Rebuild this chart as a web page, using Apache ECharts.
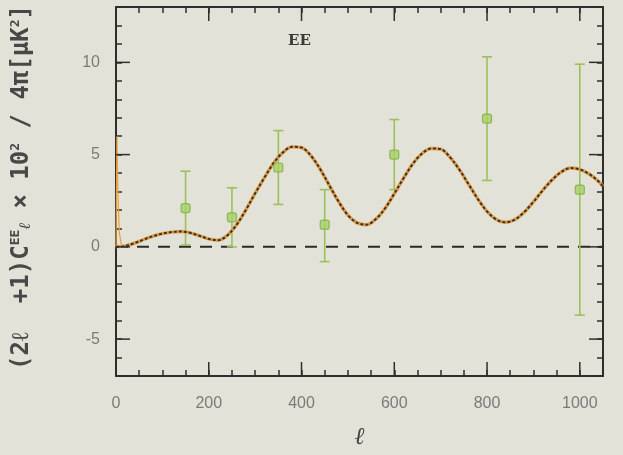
<!DOCTYPE html>
<html>
<head>
<meta charset="utf-8">
<script src="https://cdn.jsdelivr.net/npm/echarts/dist/echarts.min.js"></script>
<style>
html,body{margin:0;padding:0;background:#e3e2d8;}
#chart{width:623px;height:455px;}
</style>
</head>
<body>
<div id="chart"></div>
<script>
// Theory curve (multipole ℓ, value)
const curveEll = [0,20,40,60,80,100,120,140,160,180,200,220,240,260,280,300,320,340,360,380,400,420,440,460,480,500,520,540,560,580,600,620,640,660,680,700,720,740,760,780,800,820,840,860,880,900,920,940,960,980,1000,1020,1040,1050];
const curveVal = [0,0.05,0.2,0.4,0.58,0.72,0.8,0.83,0.76,0.6,0.43,0.36,0.62,1.2,2.0,2.9,3.75,4.55,5.12,5.42,5.38,4.95,4.22,3.33,2.45,1.72,1.3,1.2,1.5,2.08,2.88,3.72,4.5,5.06,5.33,5.3,4.86,4.2,3.4,2.6,1.92,1.48,1.33,1.48,1.88,2.44,3.06,3.62,4.06,4.27,4.2,3.95,3.56,3.27];
// Low-ℓ rise along the left edge
const lowEll = [0,2,4,7,12];
const lowVal = [0,6.0,3.0,0.8,0.05];
// Band-power data points
const dataEll = [150,250,350,450,600,800,1000];
const dataVal = [2.1,1.6,4.3,1.2,5.0,6.95,3.1];
const errLow  = [0.1,0.0,2.3,-0.8,3.1,3.6,-3.7];
const errHigh = [4.1,3.2,6.3,3.1,6.9,10.3,9.9];
// Axes
const xMajor = [0,200,400,600,800,1000];
const yMajor = [-5,0,5,10];
const xMin = 0, xMax = 1050, yMin = -7, yMax = 13;

const chart = echarts.init(document.getElementById('chart'), null, {renderer:'canvas'});
const axisCol = '#2e2e2e';
const labelStyle = {color:'#7a7a7a', fontSize:16, fontFamily:'Liberation Sans, Arial, sans-serif'};
const nameFont = 'DejaVu Sans Mono, monospace';

const option = {
  backgroundColor:'#e3e2d8',
  animation:false,
  title:{text:'EE', left:283, top:29, textStyle:{fontFamily:'DejaVu Serif, Liberation Serif, serif', fontWeight:'bold', fontSize:15, color:'#3a3a3a'}},
  grid:{left:116, top:7, right:20, bottom:71, containLabel:false},
  xAxis:[
    {type:'value', min:xMin, max:xMax, interval:50, position:'bottom',
     axisLine:{show:true, onZero:false, lineStyle:{color:axisCol, width:2}},
     axisTick:{show:true, inside:true, length:6, lineStyle:{color:axisCol, width:1.5}},
     axisLabel:{...labelStyle, margin:20, formatter:v => xMajor.includes(v) ? String(v) : ''},
     splitLine:{show:false},
     name:'ℓ', nameLocation:'middle', nameGap:50,
     nameTextStyle:{fontFamily:'DejaVu Serif, serif', fontStyle:'italic', fontSize:24, color:'#444'}},
    {type:'value', min:xMin, max:xMax, interval:50, position:'top',
     axisLine:{show:true, onZero:false, lineStyle:{color:axisCol, width:2}},
     axisTick:{show:true, inside:true, length:6, lineStyle:{color:axisCol, width:1.5}},
     axisLabel:{show:false}, splitLine:{show:false}}
  ],
  yAxis:[
    {type:'value', min:yMin, max:yMax, interval:1, position:'left',
     axisLine:{show:true, onZero:false, lineStyle:{color:axisCol, width:2}},
     axisTick:{show:true, inside:true, length:6, lineStyle:{color:axisCol, width:1.5}},
     axisLabel:{...labelStyle, margin:16, formatter:v => yMajor.includes(v) ? String(v) : ''},
     splitLine:{show:false},
     name:'{a|(2ℓ  +1)C}{sup|EE}{sub|ℓ}{a| × 10}{sup|2}{a| / 4π[μK}{sup|2}{a|]}',
     nameLocation:'middle', nameGap:82, nameRotate:90,
     nameTextStyle:{
       padding:[0,0,0,8],
       rich:{
         a:{fontSize:24, color:'#484848', fontWeight:'bold', fontFamily:nameFont},
         sup:{fontSize:13, color:'#484848', fontWeight:'bold', verticalAlign:'top', padding:[0,0,12,0], fontFamily:nameFont},
         sub:{fontSize:16, color:'#484848', verticalAlign:'bottom', padding:[8,0,0,0], fontFamily:'DejaVu Serif, serif', fontStyle:'italic'}
       }
     }},
    {type:'value', min:yMin, max:yMax, interval:1, position:'right',
     axisLine:{show:true, onZero:false, lineStyle:{color:axisCol, width:2}},
     axisTick:{show:true, inside:true, length:6, lineStyle:{color:axisCol, width:1.5}},
     axisLabel:{show:false}, splitLine:{show:false}}
  ],
  series:[
    // major ticks on all four sides
    {type:'custom', xAxisIndex:0, yAxisIndex:0, silent:true, clip:false, z:5,
     data:xMajor.map(v=>[v]),
     renderItem:(params, api)=>{
       const v = api.value(0);
       const b = api.coord([v, yMin]); const t = api.coord([v, yMax]);
       return {type:'group', children:[
         {type:'line', shape:{x1:b[0],y1:b[1],x2:b[0],y2:b[1]-14}, style:{stroke:axisCol, lineWidth:1.5}},
         {type:'line', shape:{x1:t[0],y1:t[1],x2:t[0],y2:t[1]+14}, style:{stroke:axisCol, lineWidth:1.5}}
       ]};
     }},
    {type:'custom', xAxisIndex:0, yAxisIndex:0, silent:true, clip:false, z:5,
     data:yMajor.map(v=>[v]),
     renderItem:(params, api)=>{
       const v = api.value(0);
       const l = api.coord([xMin, v]); const r = api.coord([xMax, v]);
       return {type:'group', children:[
         {type:'line', shape:{x1:l[0],y1:l[1],x2:l[0]+14,y2:l[1]}, style:{stroke:axisCol, lineWidth:1.5}},
         {type:'line', shape:{x1:r[0],y1:r[1],x2:r[0]-14,y2:r[1]}, style:{stroke:axisCol, lineWidth:1.5}}
       ]};
     }},
    // zero line
    {type:'line', data:[[xMin,0],[xMax,0]], symbol:'none', silent:true, z:2,
     lineStyle:{color:'#2a2a2a', width:2, type:[12,9]}},
    // error bars
    {type:'custom', silent:true, z:3,
     data:dataEll.map((x,i)=>[x, errLow[i], errHigh[i]]),
     renderItem:(params, api)=>{
       const lo = api.coord([api.value(0), api.value(1)]);
       const hi = api.coord([api.value(0), api.value(2)]);
       const c = '#9cc05a', w = 5;
       return {type:'group', children:[
         {type:'line', shape:{x1:lo[0],y1:lo[1],x2:hi[0],y2:hi[1]}, style:{stroke:c, lineWidth:1.6}},
         {type:'line', shape:{x1:lo[0]-w,y1:lo[1],x2:lo[0]+w,y2:lo[1]}, style:{stroke:c, lineWidth:1.6}},
         {type:'line', shape:{x1:hi[0]-w,y1:hi[1],x2:hi[0]+w,y2:hi[1]}, style:{stroke:c, lineWidth:1.6}}
       ]};
     }},
    // theory curve: orange underlay + dark dotted overlay
    {type:'line', data:curveEll.map((x,i)=>[x,curveVal[i]]), symbol:'none', smooth:0.35, z:4,
     lineStyle:{color:'#e0a048', width:3.4}},
    {type:'line', data:curveEll.map((x,i)=>[x,curveVal[i]]), symbol:'none', smooth:0.35, z:4,
     lineStyle:{color:'#3e3229', width:2, type:[3,2]}},
    {type:'line', data:lowEll.map((x,i)=>[x,lowVal[i]]), symbol:'none', z:4,
     lineStyle:{color:'#e8a23e', width:1.2}},
    // data points
    {type:'scatter', data:dataEll.map((x,i)=>[x,dataVal[i]]), symbol:'roundRect', symbolSize:9, z:6,
     itemStyle:{color:'#a8d266', borderColor:'#80ac44', borderWidth:1.2}}
  ]
};
chart.setOption(option);
</script>
</body>
</html>
